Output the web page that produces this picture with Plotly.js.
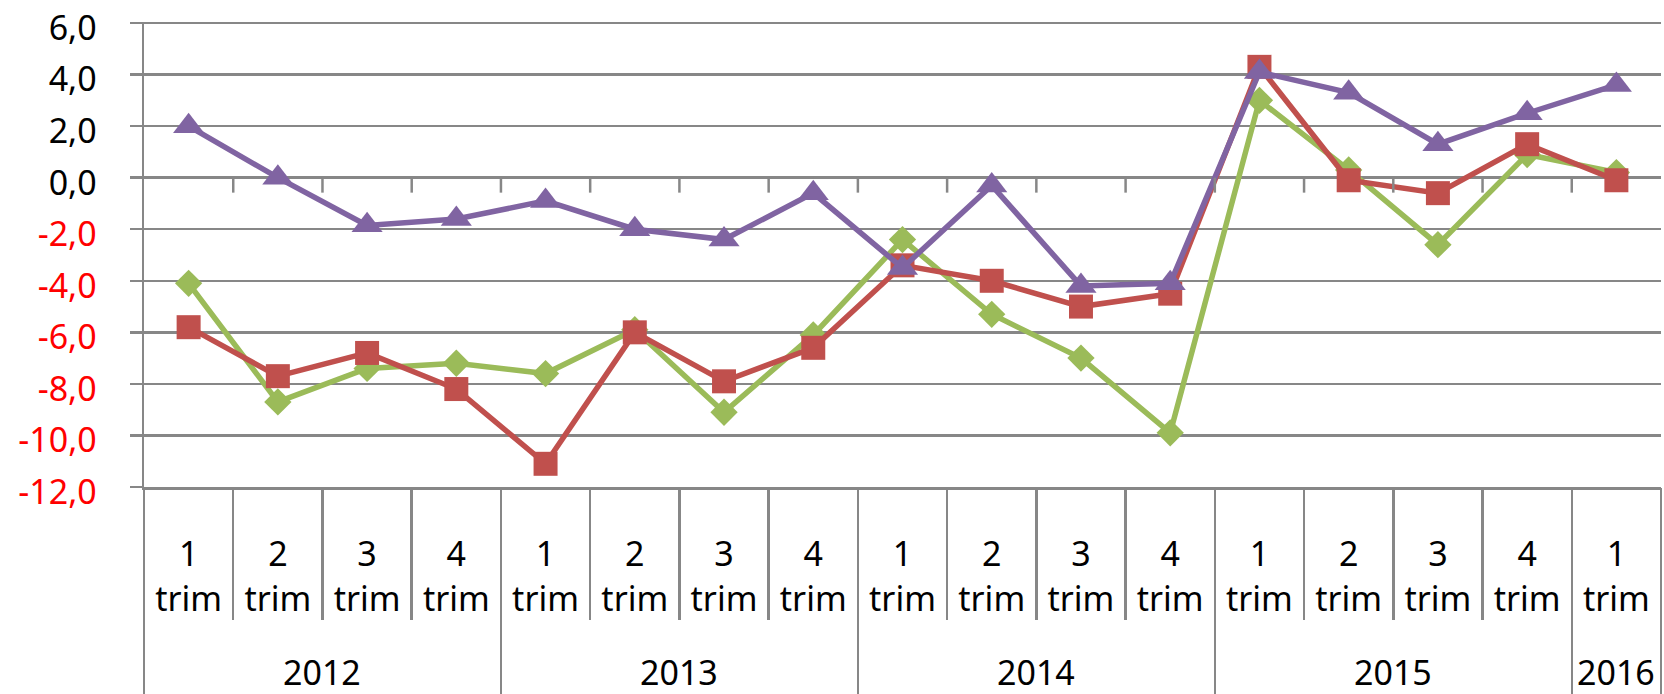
<!DOCTYPE html>
<html>
<head>
<meta charset="utf-8">
<script src="https://cdn.plot.ly/plotly-3.0.1.min.js"></script>
<style>html,body{margin:0;padding:0;background:#fff;}#chart{width:1664px;height:694px;}</style>
</head>
<body>
<div id="chart"></div>
<script>
// ---- data ----
const years = ["2012", "2013", "2014", "2015", "2016"];
const yearCenters = [1.5, 5.5, 9.5, 13.5, 16];
const quarters = ["1","2","3","4","1","2","3","4","1","2","3","4","1","2","3","4","1"];
const quarterWord = "trim";
const seriesGreen  = [-4.1, -8.7, -7.4, -7.2, -7.6, -5.9, -9.1, -6.1, -2.4, -5.3, -7.0, -9.9, 3.0, 0.3, -2.6, 0.9, 0.2];
const seriesRed    = [-5.8, -7.7, -6.8, -8.2, -11.1, -6.0, -7.9, -6.6, -3.4, -4.0, -5.0, -4.5, 4.3, -0.1, -0.6, 1.3, -0.1];
const seriesPurple = [2.0, 0.0, -1.85, -1.6, -0.9, -2.0, -2.4, -0.6, -3.5, -0.3, -4.2, -4.1, 4.1, 3.3, 1.3, 2.5, 3.6];
const yTickVals = [6, 4, 2, 0, -2, -4, -6, -8, -10, -12];
const yTickText = ["6,0", "4,0", "2,0", "0,0", "-2,0", "-4,0", "-6,0", "-8,0", "-10,0", "-12,0"];

// ---- build ----
const idx = quarters.map((_, i) => i);
const FONT = "Noto Sans, Open Sans, sans-serif";
const GRID = "#878787";

function lineTrace(y, color, symbol, size) {
  return {
    type: "scatter", mode: "lines+markers", x: idx, y: y,
    line: {color: color, width: 5.5},
    marker: {color: color, symbol: symbol, size: size, line: {width: 0}},
    hoverinfo: "skip", showlegend: false, cliponaxis: false
  };
}
function axisHolder(xa) {
  return {type: "scatter", mode: "none", x: [null], y: [null], xaxis: xa, yaxis: "y",
          hoverinfo: "skip", showlegend: false};
}
const traces = [
  axisHolder("x2"), axisHolder("x3"), axisHolder("x4"),
  lineTrace(seriesGreen, "#9BBB59", "diamond", 21),
  lineTrace(seriesRed, "#C0504D", "square", 24),
  lineTrace(seriesPurple, "#8064A2", "triangle-up", 27)
];

const boundaries = [];
for (let k = 0; k <= quarters.length; k++) boundaries.push(k - 0.5);
const yearBounds = [-0.5, 3.5, 7.5, 11.5, 15.5, 16.5];

const yText = yTickVals.map((v, i) => v < 0 ? '<span style="color:#FF0000">' + yTickText[i] + '</span>' : yTickText[i]);

const shapes = boundaries.slice(1, -1).map(b => ({
  type: "line", xref: "x", yref: "y", x0: b, x1: b, y0: 0, y1: -0.58,
  line: {color: GRID, width: 2.5}
}));

const annotations = years.map((yr, i) => ({
  text: yr, x: yearCenters[i], xref: "x", y: -0.398, yref: "paper",
  showarrow: false, xanchor: "center", yanchor: "middle", borderpad: 0,
  font: {family: FONT, size: 34, color: "#000"}
}));

const common = {range: [-0.5, 16.5], fixedrange: true, showgrid: false, zeroline: false};

const layout = {
  width: 1664, height: 694,
  margin: {l: 144, r: 3, t: 22, b: 207},
  paper_bgcolor: "#fff", plot_bgcolor: "#fff",
  font: {family: FONT, size: 34, color: "#000"},
  xaxis: Object.assign({}, common, {
    tickmode: "array", tickvals: boundaries, ticktext: boundaries.map(() => ""),
    ticks: "outside", ticklen: 130, tickwidth: 2.5, tickcolor: GRID,
    showline: true, linecolor: GRID, linewidth: 2.5
  }),
  xaxis2: Object.assign({}, common, {
    overlaying: "x", anchor: "y", side: "bottom",
    tickmode: "array", tickvals: idx, ticktext: quarters, ticks: "",
    ticklabelstandoff: 44, showline: false,
    tickfont: {family: FONT, size: 34, color: "#000"}
  }),
  xaxis3: Object.assign({}, common, {
    overlaying: "x", anchor: "y", side: "bottom",
    tickmode: "array", tickvals: idx, ticktext: quarters.map(() => quarterWord), ticks: "",
    ticklabelstandoff: 89, showline: false,
    tickfont: {family: FONT, size: 34, color: "#000"}
  }),
  xaxis4: Object.assign({}, common, {
    overlaying: "x", anchor: "y", side: "bottom",
    tickmode: "array", tickvals: yearBounds, ticktext: yearBounds.map(() => ""),
    ticks: "outside", ticklen: 210, tickwidth: 2.5, tickcolor: GRID, showline: false
  }),
  yaxis: {
    range: [-12, 6.04], fixedrange: true,
    tickmode: "array", tickvals: yTickVals, ticktext: yText,
    showgrid: true, gridcolor: GRID, gridwidth: 2.5, zeroline: false,
    showline: true, linecolor: GRID, linewidth: 2.5,
    ticks: "outside", ticklen: 12, tickwidth: 2.5, tickcolor: GRID,
    ticklabelstandoff: 26, ticklabelshift: 5, ticklabeloverflow: "allow",
    tickfont: {family: FONT, size: 34, color: "#000"}
  },
  shapes: shapes,
  annotations: annotations,
  showlegend: false
};

Plotly.newPlot("chart", traces, layout, {displayModeBar: false, staticPlot: true});
</script>
</body>
</html>
